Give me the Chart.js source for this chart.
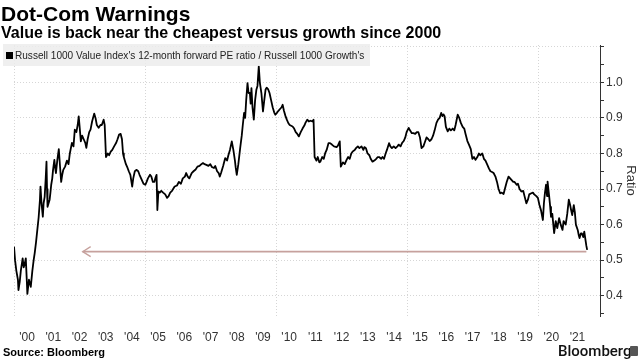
<!DOCTYPE html>
<html><head><meta charset="utf-8">
<script src="https://cdn.jsdelivr.net/npm/chart.js@4.4.1/dist/chart.umd.min.js"></script>
<style>
body{margin:0;background:#fff;}
#wrap{position:relative;width:640px;height:360px;overflow:hidden;font-family:"Liberation Sans",Arial,sans-serif;background:#fff;}
canvas{position:absolute;left:0;top:0;}
.t{position:absolute;white-space:nowrap;color:#000;}
#title{left:1px;top:2px;font-size:21px;font-weight:bold;line-height:24px;}
#sub{left:1px;top:24px;font-size:16px;font-weight:bold;line-height:18px;}
#legend{position:absolute;left:3px;top:44px;width:367px;height:22px;background:rgba(236,236,236,0.85);}
#legend .sq{position:absolute;left:3px;top:8px;width:7px;height:7px;background:#000;}
#legend .lt{position:absolute;left:12px;top:4px;font-size:11px;line-height:14px;color:#222;white-space:nowrap;transform:scaleX(0.915);transform-origin:0 0;}
#src{left:3px;top:346px;font-size:11px;font-weight:bold;line-height:13px;}
#bb{left:558px;top:342px;font-family:Roboto,"Liberation Sans",sans-serif;font-size:15px;font-weight:500;line-height:18px;color:#111;}
#icon{position:absolute;left:630px;top:346px;width:8px;height:10px;background:#555;border-radius:1px;}
</style>
</head><body>
<div id="wrap">
<canvas id="c" width="640" height="360"></canvas>
<div class="t" id="title">Dot-Com Warnings</div>
<div class="t" id="sub">Value is back near the cheapest versus growth since 2000</div>
<div id="legend"><div class="sq"></div><div class="lt">Russell 1000 Value Index's 12-month forward PE ratio / Russell 1000 Growth's</div></div>
<div class="t" id="src">Source: Bloomberg</div>
<div class="t" id="bb">Bloomberg</div>
<div id="icon"></div>
</div>
<script>
// ---- data ----
const years = [
2000.00,2000.04,2000.09,2000.15,2000.17,2000.22,2000.26,2000.33,2000.37,2000.41,2000.45,2000.49,2000.51,2000.57,2000.64,2000.70,2000.75,2000.79,2000.84,2000.89,2000.94,2000.99,
2001.01,2001.05,2001.10,2001.13,2001.17,2001.21,2001.24,2001.26,2001.28,2001.32,2001.36,2001.39,2001.42,2001.46,2001.49,2001.54,2001.57,2001.60,2001.65,2001.71,2001.76,2001.80,2001.84,2001.88,2001.95,
2002.02,2002.08,2002.13,2002.21,2002.27,2002.32,2002.38,2002.43,2002.47,2002.51,2002.55,2002.60,2002.66,2002.72,2002.76,2002.81,2002.87,2002.92,2002.98,
2003.06,2003.11,2003.16,2003.23,2003.30,2003.35,2003.42,2003.46,2003.51,2003.58,2003.63,2003.69,2003.75,2003.82,2003.90,2003.95,
2004.01,2004.07,2004.12,2004.16,2004.19,2004.27,2004.33,2004.38,2004.44,2004.51,2004.55,2004.61,2004.68,2004.74,2004.79,2004.85,2004.91,2004.94,
2005.01,2005.06,2005.11,2005.19,2005.24,2005.30,2005.36,2005.39,2005.44,2005.47,2005.51,2005.56,2005.62,2005.69,2005.77,2005.84,2005.90,2005.96,
2006.03,2006.13,2006.22,2006.29,2006.37,2006.44,2006.52,2006.57,2006.63,2006.69,2006.78,2006.85,2006.93,
2007.00,2007.08,2007.15,2007.21,2007.27,2007.34,2007.42,2007.49,2007.55,2007.63,2007.68,2007.75,2007.81,2007.85,2007.90,2007.98,
2008.06,2008.13,2008.18,2008.24,2008.31,2008.37,2008.43,2008.46,2008.50,2008.56,2008.63,2008.69,2008.73,2008.78,2008.82,2008.86,2008.91,2008.95,
2009.00,2009.03,2009.06,2009.10,2009.15,2009.20,2009.25,2009.29,2009.34,2009.38,2009.44,2009.50,2009.55,2009.60,2009.64,2009.70,2009.75,2009.81,2009.87,2009.93,2009.97,
2010.04,2010.09,2010.15,2010.21,2010.25,2010.30,2010.36,2010.41,2010.47,2010.52,2010.63,2010.69,2010.75,2010.81,2010.87,2010.94,
2011.01,2011.09,2011.12,2011.19,2011.25,2011.31,2011.39,2011.43,2011.47,2011.54,2011.59,2011.65,2011.69,2011.76,2011.82,2011.87,2011.93,
2012.00,2012.06,2012.13,2012.21,2012.31,2012.36,2012.43,2012.47,2012.55,2012.62,2012.69,2012.75,2012.81,2012.87,2012.93,
2013.00,2013.05,2013.12,2013.18,2013.26,2013.33,2013.37,2013.43,2013.49,2013.56,2013.61,2013.68,2013.75,2013.82,2013.88,2013.93,
2014.01,2014.06,2014.12,2014.18,2014.23,2014.31,2014.36,2014.42,2014.49,2014.56,2014.63,2014.68,2014.75,2014.81,2014.87,2014.93,2014.98,
2015.06,2015.11,2015.18,2015.24,2015.31,2015.37,2015.43,2015.49,2015.55,2015.62,2015.67,2015.74,2015.81,2015.86,2015.93,2015.99,
2016.05,2016.12,2016.18,2016.24,2016.30,2016.35,2016.39,2016.43,2016.48,2016.55,2016.61,2016.67,2016.74,2016.80,2016.85,2016.93,2016.99,
2017.05,2017.12,2017.18,2017.23,2017.30,2017.36,2017.43,2017.49,2017.55,2017.61,2017.68,2017.74,2017.79,2017.87,2017.93,2017.99,
2018.05,2018.12,2018.18,2018.24,2018.30,2018.37,2018.43,2018.49,2018.55,2018.61,2018.68,2018.73,2018.80,2018.87,2018.93,2018.99,
2019.05,2019.10,2019.18,2019.23,2019.29,2019.36,2019.43,2019.48,2019.55,2019.61,2019.66,2019.74,2019.80,2019.85,2019.93,2019.99,
2020.05,2020.11,2020.18,2020.22,2020.26,2020.30,2020.34,2020.36,2020.39,2020.42,2020.46,2020.49,2020.54,2020.61,2020.67,2020.73,2020.80,2020.86,2020.93,2020.97,
2021.05,2021.11,2021.17,2021.22,2021.26,2021.30,2021.36,2021.40,2021.44,2021.51,2021.55,2021.58,2021.63,2021.67,2021.72,2021.76,2021.80,2021.84,2021.87
];
const ratio = [
0.538,0.50,0.47,0.445,0.416,0.44,0.47,0.505,0.48,0.49,0.505,0.44,0.405,0.445,0.425,0.47,0.50,0.52,0.55,0.585,0.62,0.67,
0.707,0.66,0.622,0.66,0.678,0.73,0.777,0.70,0.65,0.66,0.67,0.69,0.712,0.73,0.754,0.782,0.76,0.745,0.78,0.812,0.76,0.72,0.74,0.754,0.763,
0.78,0.77,0.80,0.83,0.82,0.867,0.86,0.88,0.904,0.87,0.834,0.85,0.84,0.83,0.816,0.84,0.86,0.867,0.89,
0.912,0.90,0.88,0.872,0.88,0.88,0.895,0.88,0.79,0.80,0.795,0.805,0.81,0.82,0.83,0.84,
0.853,0.855,0.84,0.80,0.79,0.77,0.76,0.75,0.74,0.707,0.73,0.75,0.754,0.75,0.74,0.73,0.72,0.715,
0.712,0.72,0.73,0.74,0.735,0.72,0.72,0.73,0.74,0.641,0.693,0.69,0.695,0.69,0.685,0.675,0.68,0.69,
0.695,0.707,0.71,0.72,0.715,0.73,0.735,0.745,0.735,0.73,0.745,0.75,0.755,
0.763,0.765,0.77,0.773,0.77,0.768,0.765,0.77,0.762,0.759,0.765,0.75,0.745,0.735,0.745,0.765,
0.787,0.78,0.795,0.81,0.834,0.81,0.78,0.76,0.74,0.77,0.815,0.85,0.88,0.914,0.90,0.95,0.998,0.97,
0.97,0.94,0.984,0.93,0.895,0.95,0.98,0.99,1.045,1.00,0.97,0.918,0.95,0.98,0.985,0.98,0.97,0.95,0.93,0.915,0.909,
0.915,0.92,0.925,0.93,0.937,0.92,0.905,0.895,0.885,0.88,0.876,0.87,0.86,0.855,0.848,0.86,
0.87,0.88,0.886,0.895,0.89,0.892,0.89,0.895,0.79,0.78,0.79,0.775,0.777,0.79,0.785,0.80,0.81,
0.829,0.829,0.825,0.82,0.818,0.822,0.834,0.763,0.775,0.77,0.782,0.79,0.785,0.80,0.806,
0.81,0.815,0.82,0.815,0.82,0.81,0.818,0.815,0.80,0.795,0.785,0.777,0.78,0.785,0.79,0.79,
0.785,0.79,0.785,0.80,0.81,0.829,0.82,0.815,0.82,0.815,0.82,0.825,0.82,0.83,0.835,0.845,0.86,
0.872,0.865,0.857,0.857,0.855,0.86,0.86,0.845,0.815,0.82,0.83,0.845,0.84,0.835,0.84,0.85,
0.865,0.886,0.895,0.90,0.914,0.905,0.91,0.905,0.875,0.862,0.87,0.865,0.87,0.865,0.88,0.909,0.90,
0.886,0.875,0.87,0.855,0.835,0.825,0.812,0.785,0.79,0.782,0.79,0.80,0.795,0.80,0.785,0.78,
0.77,0.758,0.75,0.748,0.745,0.735,0.72,0.70,0.688,0.69,0.686,0.70,0.72,0.735,0.73,0.725,
0.72,0.72,0.712,0.715,0.70,0.693,0.695,0.68,0.66,0.67,0.685,0.688,0.69,0.685,0.68,0.675,
0.655,0.64,0.613,0.66,0.69,0.712,0.68,0.721,0.70,0.68,0.65,0.622,0.63,0.576,0.61,0.59,0.618,0.60,0.585,0.61,
0.60,0.63,0.67,0.655,0.64,0.627,0.655,0.635,0.60,0.585,0.57,0.562,0.575,0.575,0.565,0.58,0.56,0.54,0.529
];
const arrowYears = [2002.62, 2021.84];
const arrowLevel = 0.524;
const xTickLabels = ["'00","'01","'02","'03","'04","'05","'06","'07","'08","'09","'10","'11","'12","'13","'14","'15","'16","'17","'18","'19","'20","'21"];
const yTickLabels = ["0.4","0.5","0.6","0.7","0.8","0.9","1.0"];
const yTickValues = [0.4,0.5,0.6,0.7,0.8,0.9,1.0];
const firstYear = 2000;

// ---- chart ----
Chart.defaults.font.family = "'Liberation Sans', Arial, sans-serif";
const arrowColor = '#c6a19d';
const near = (a,b) => Math.abs(a-b) < 1e-6;

const arrowHead = {
  id: 'arrowHead',
  afterDatasetsDraw(chart) {
    const {ctx, scales: {x, y}} = chart;
    const px = x.getPixelForValue(arrowYears[0]);
    const py = y.getPixelForValue(arrowLevel);
    ctx.save();
    ctx.strokeStyle = arrowColor;
    ctx.lineWidth = 1.3;
    ctx.beginPath();
    ctx.moveTo(px + 8, py - 5);
    ctx.lineTo(px, py);
    ctx.lineTo(px + 8, py + 5);
    ctx.stroke();
    ctx.restore();
  }
};

new Chart(document.getElementById('c'), {
  type: 'line',
  data: {
    datasets: [
      {
        data: years.map((yr, i) => ({x: yr, y: ratio[i]})),
        borderColor: '#000',
        borderWidth: 1.8,
        pointRadius: 0,
        tension: 0,
        borderJoinStyle: 'round',
        order: 0
      },
      {
        data: arrowYears.map(yr => ({x: yr, y: arrowLevel})),
        borderColor: arrowColor,
        borderWidth: 1.6,
        pointRadius: 0,
        order: 1
      }
    ]
  },
  options: {
    responsive: false,
    animation: false,
    layout: {padding: {left: 3, top: 45, right: 0, bottom: 16}},
    plugins: {legend: {display: false}, tooltip: {enabled: false}, title: {display: false}},
    scales: {
      x: {
        type: 'linear',
        min: 2000,
        max: 2022.36,
        afterBuildTicks(scale) {
          const t = [];
          for (let yr = 2000; yr <= 2022; yr++) {
            t.push({value: yr});
            if (yr + 0.5 <= scale.max) t.push({value: yr + 0.5});
          }
          scale.ticks = t;
        },
        afterFit(scale) { scale.height = 28; },
        grid: {
          drawTicks: false,
          color: (ctx) => {
            const v = ctx.tick ? ctx.tick.value : NaN;
            return (near(v, Math.round(v)) && Math.round(v) % 5 === 0) ? '#d6d6d6' : 'rgba(0,0,0,0)';
          },
          lineWidth: 1
        },
        border: {display: false, dash: [1, 2]},
        ticks: {
          autoSkip: false,
          maxRotation: 0,
          padding: 14,
          color: '#333',
          font: {size: 12},
          callback: (v) => {
            const f = v - Math.floor(v);
            if (near(f, 0.5)) return xTickLabels[Math.floor(v) - firstYear] || '';
            return '';
          }
        }
      },
      y: {
        position: 'right',
        min: 0.343,
        max: 1.105,
        afterBuildTicks(scale) {
          const t = [];
          for (let k = 7; k <= 22; k++) t.push({value: k / 20});
          scale.ticks = t;
        },
        afterFit(scale) { scale.width = 40; },
        grid: {
          color: (ctx) => {
            const v = ctx.tick ? ctx.tick.value : NaN;
            return near(v * 10, Math.round(v * 10)) ? '#d6d6d6' : 'rgba(0,0,0,0)';
          },
          tickColor: '#333',
          tickLength: 4,
          tickWidth: 1,
          tickBorderDash: [],
          lineWidth: 1
        },
        border: {display: true, color: '#333', width: 1, dash: [1, 2]},
        ticks: {
          autoSkip: false,
          padding: 2,
          color: '#333',
          font: {size: 12},
          callback: (v) => {
            const i = yTickValues.findIndex(tv => near(tv, v));
            return i >= 0 ? yTickLabels[i] : '';
          }
        },
        title: {
          display: true,
          text: 'Ratio',
          color: '#333',
          font: {size: 13},
          padding: {top: 2, bottom: 0}
        }
      }
    }
  },
  plugins: [arrowHead]
});
</script>
</body></html>
